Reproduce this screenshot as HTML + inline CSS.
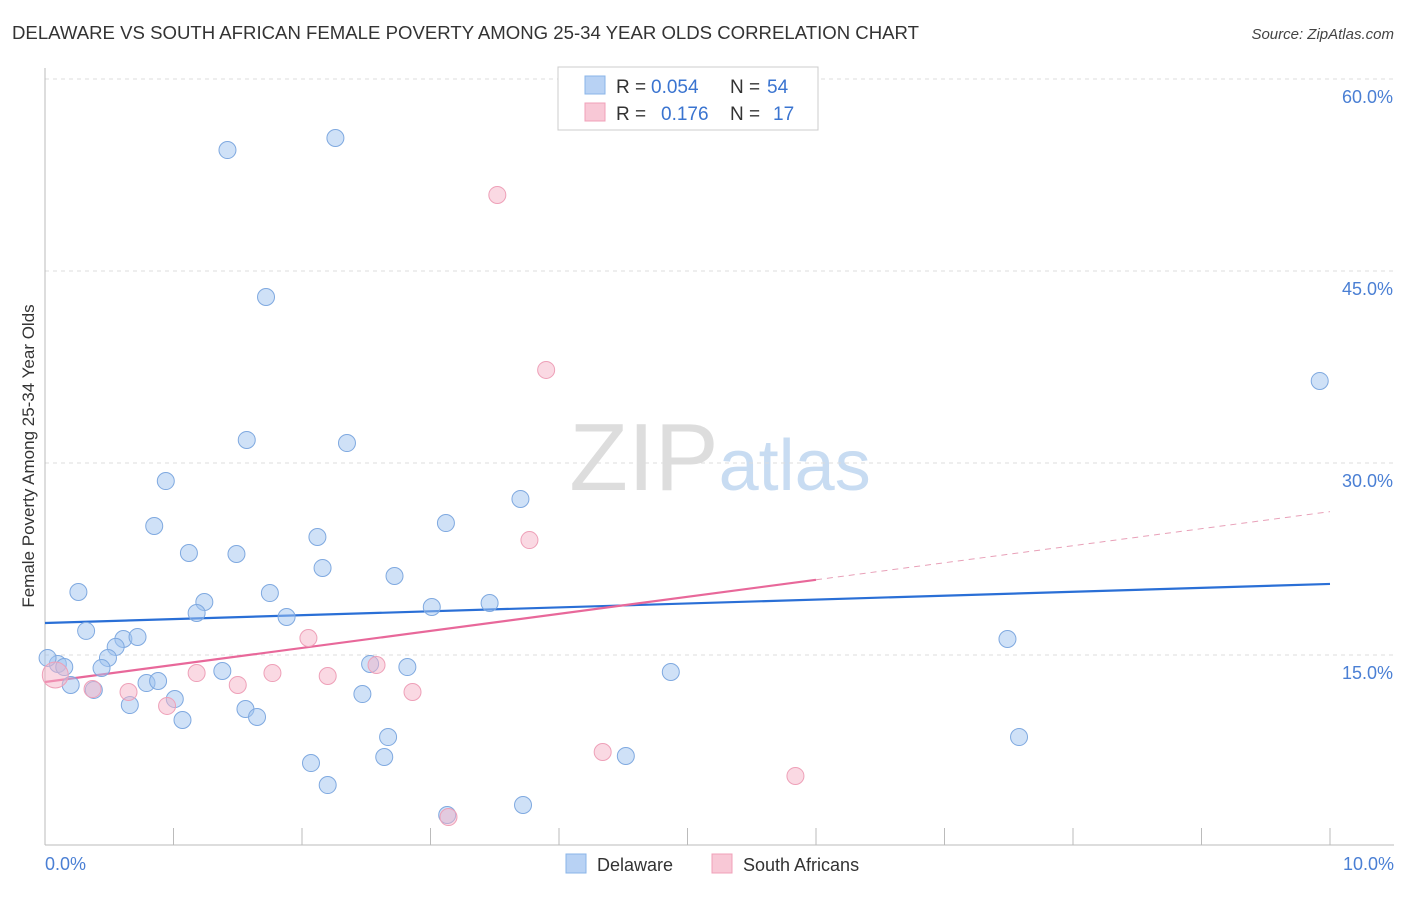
<!DOCTYPE html>
<html><head><meta charset="utf-8">
<style>
body{margin:0;background:#fff;font-family:"Liberation Sans",sans-serif;}
svg text{font-family:"Liberation Sans",sans-serif;}
</style></head>
<body>
<svg id="chart" width="1406" height="892" viewBox="0 0 1406 892">
<text x="12" y="39" font-size="18" fill="#333" textLength="907" lengthAdjust="spacingAndGlyphs">DELAWARE VS SOUTH AFRICAN FEMALE POVERTY AMONG 25-34 YEAR OLDS CORRELATION CHART</text>
<text x="1394" y="39" font-size="15" fill="#444" text-anchor="end" font-style="italic">Source: ZipAtlas.com</text>
<text x="720" y="490" font-size="96" text-anchor="middle" fill="#ddd" font-family="Liberation Serif,serif">ZIP<tspan fill="#c8dcf2" font-family="Liberation Sans,sans-serif" font-size="72">atlas</tspan></text>
<text transform="translate(34,456) rotate(-90)" font-size="17" fill="#333" text-anchor="middle">Female Poverty Among 25-34 Year Olds</text>
<g id="grid"></g><g id="trends"></g><g id="points"></g>
<g>
<rect x="558" y="67" width="260" height="63" fill="#fff" stroke="#ccc"/>
<rect x="585" y="76" width="20" height="18" fill="#b8d2f4" stroke="#8ab4e8"/>
<rect x="585" y="103" width="20" height="18" fill="#f8c8d6" stroke="#f0a0b8"/>
<text x="616" y="93" font-size="19" fill="#333">R =</text>
<text x="651" y="93" font-size="19" fill="#3a74d0">0.054</text>
<text x="730" y="93" font-size="19" fill="#333">N =</text>
<text x="767" y="93" font-size="19" fill="#3a74d0">54</text>
<text x="616" y="120" font-size="19" fill="#333">R =</text>
<text x="661" y="120" font-size="19" fill="#3a74d0">0.176</text>
<text x="730" y="120" font-size="19" fill="#333">N =</text>
<text x="773" y="120" font-size="19" fill="#3a74d0">17</text>
</g>
<g>
<rect x="566" y="854" width="20" height="19" fill="#b8d2f4" stroke="#8ab4e8"/>
<text x="597" y="871" font-size="18" fill="#333">Delaware</text>
<rect x="712" y="854" width="20" height="19" fill="#f8c8d6" stroke="#f0a0b8"/>
<text x="743" y="871" font-size="18" fill="#333">South Africans</text>
</g>
</svg>
<script>
const yTicks=[15,30,45,60];
const yTickLabels=["15.0%","30.0%","45.0%","60.0%"];
const xTickLabels=["0.0%","10.0%"];
const delX=[1.42,2.26,1.72,9.92,1.57,2.35,0.94,0.85,3.70,3.12,1.12,1.49,2.12,2.16,2.72,0.26,1.75,1.24,1.18,1.88,3.01,3.46,0.32,0.61,0.72,0.55,0.49,0.44,0.10,0.15,0.02,0.20,0.38,0.79,0.88,1.01,1.38,2.53,2.82,4.87,7.49,0.66,1.07,1.56,1.65,2.47,2.67,2.64,7.58,4.52,2.07,2.20,3.72,3.13];
const delY=[54.45,55.39,42.97,36.41,31.80,31.56,28.59,25.08,27.19,25.31,22.97,22.89,24.22,21.80,21.17,19.92,19.84,19.14,18.28,17.97,18.75,19.06,16.88,16.25,16.41,15.63,14.77,13.98,14.30,14.06,14.77,12.66,12.27,12.81,12.97,11.56,13.75,14.30,14.06,13.67,16.25,11.09,9.92,10.78,10.16,11.95,8.59,7.03,8.59,7.11,6.56,4.84,3.28,2.50];
const saX=[3.52,3.90,3.77,2.05,1.18,1.77,2.20,2.58,1.50,0.65,0.37,2.86,0.95,4.34,5.84,3.14,0.08];
const saY=[50.94,37.27,23.98,16.33,13.59,13.59,13.36,14.22,12.66,12.11,12.34,12.11,11.02,7.42,5.55,2.34,13.44];
const delTrend=[17.5,20.55];
const saTrend=[12.89,26.2];
const saSolidEnd=6.0;
const NS="http://www.w3.org/2000/svg";
const X=v=>45+v/10*1285;
const Y=v=>847-v/15*192;
function mk(tag,attrs,parent){const e=document.createElementNS(NS,tag);for(const k in attrs)e.setAttribute(k,attrs[k]);parent.appendChild(e);return e;}
const grid=document.getElementById('grid');
yTicks.forEach((t,i)=>{
 const l=mk('line',{x1:45,x2:1394,y1:Y(t),y2:Y(t),stroke:'#ddd','stroke-dasharray':'4,4'},grid);
 
 
 const tx=mk('text',{x:1393,y:Y(t)+24,'font-size':18,fill:'#4a7fd4','text-anchor':'end'},grid);
 tx.textContent=yTickLabels[i];
 
 
});
const ax=mk('line',{x1:45,x2:1394,y1:845,y2:845,stroke:'#bbb'},grid);


const ay=mk('line',{x1:45,x2:45,y1:68,y2:845,stroke:'#bbb'},grid);


for(let i=0;i<=10;i++){
 const t=mk('line',{x1:X(i),x2:X(i),y1:828,y2:845,stroke:'#bbb'},grid);
 
 
}
[[0,'start',45],[10,'end',1394]].forEach((d,i)=>{
 const tx=mk('text',{x:d[2],y:870,'font-size':18,fill:'#4a7fd4','text-anchor':d[1]},grid);
 tx.textContent=xTickLabels[i];
 
 
});
const pts=document.getElementById('points');
delX.forEach((x,i)=>{
 const c=mk('circle',{cx:X(x),cy:Y(delY[i]),r:8.5,fill:'rgba(160,196,240,0.5)',stroke:'#7fa9e0','stroke-width':1},pts);
 
 
});
saX.forEach((x,i)=>{
 const c=mk('circle',{cx:X(x),cy:Y(saY[i]),r:i==16?13:8.5,fill:'rgba(245,180,200,0.5)',stroke:'#eea0b8','stroke-width':1},pts);
 
 
});
const tr=document.getElementById('trends');
const b=mk('line',{x1:X(0),y1:Y(delTrend[0]),x2:X(10),y2:Y(delTrend[1]),stroke:'#2a6fd6','stroke-width':2.2},tr);


const ySolid=saTrend[0]+(saTrend[1]-saTrend[0])*saSolidEnd/10;
const p=mk('line',{x1:X(0),y1:Y(saTrend[0]),x2:X(saSolidEnd),y2:Y(ySolid),stroke:'#e8689a','stroke-width':2.2},tr);


const pd=mk('line',{x1:X(saSolidEnd),y1:Y(ySolid),x2:X(10),y2:Y(saTrend[1]),stroke:'#e8a0b8','stroke-width':1,'stroke-dasharray':'6,5'},tr);


</script>
</body></html>
